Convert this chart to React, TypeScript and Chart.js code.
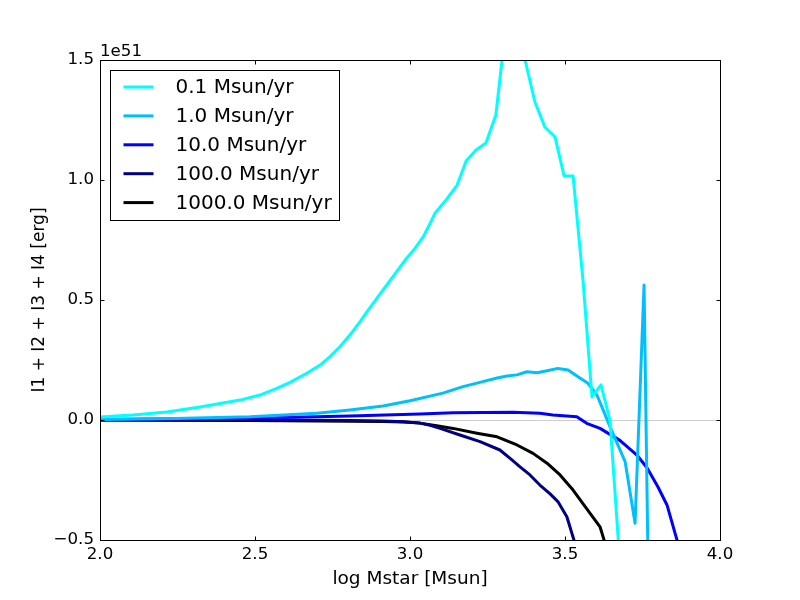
import React, { useEffect, useRef } from "react";
import { Chart, registerables } from "chart.js";

Chart.register(...registerables);

// ---- Data (energy in units of 1e51 erg) ----
const seriesLabels = ["0.1 Msun/yr", "1.0 Msun/yr", "10.0 Msun/yr", "100.0 Msun/yr", "1000.0 Msun/yr"];

const logM_01 = [2.0, 2.106, 2.216, 2.323, 2.452, 2.516, 2.570, 2.613, 2.667, 2.710, 2.742, 2.774, 2.806, 2.839, 2.865, 2.893, 2.925, 2.957, 2.989, 3.016, 3.043, 3.07, 3.081, 3.119, 3.152, 3.181, 3.213, 3.245, 3.277, 3.310, 3.342, 3.403, 3.435, 3.468, 3.497, 3.526, 3.558, 3.587, 3.616, 3.645, 3.68];
const energy_01 = [0.0125, 0.021, 0.033, 0.054, 0.083, 0.104, 0.132, 0.157, 0.195, 0.229, 0.264, 0.305, 0.354, 0.41, 0.458, 0.507, 0.5625, 0.618, 0.674, 0.715, 0.764, 0.833, 0.863, 0.921, 0.979, 1.079, 1.125, 1.154, 1.271, 1.65, 1.66, 1.325, 1.221, 1.179, 1.017, 1.017, 0.583, 0.096, 0.146, 0.0, -0.65];

const logM_1 = [2.0, 2.242, 2.484, 2.7, 2.806, 2.913, 3.0, 3.106, 3.171, 3.235, 3.281, 3.313, 3.345, 3.377, 3.41, 3.442, 3.477, 3.51, 3.542, 3.574, 3.603, 3.623, 3.645, 3.668, 3.694, 3.726, 3.755, 3.787];
const energy_1 = [0.002, 0.006, 0.014, 0.028, 0.042, 0.058, 0.08, 0.112, 0.139, 0.16, 0.175, 0.183, 0.188, 0.201, 0.197, 0.205, 0.215, 0.208, 0.18, 0.153, 0.104, 0.042, -0.028, -0.096, -0.174, -0.43, 0.5625, -2.3];

const logM_10 = [2.0, 2.484, 2.806, 3.032, 3.139, 3.332, 3.419, 3.461, 3.538, 3.570, 3.613, 3.677, 3.732, 3.765, 3.8, 3.829, 3.89];
const energy_10 = [0.002, 0.007, 0.017, 0.025, 0.030, 0.032, 0.028, 0.021, 0.014, -0.014, -0.035, -0.085, -0.146, -0.2, -0.279, -0.354, -0.63];

const logM_100 = [2.0, 2.484, 2.806, 2.913, 2.98, 3.032, 3.065, 3.097, 3.161, 3.226, 3.29, 3.323, 3.355, 3.387, 3.419, 3.452, 3.477, 3.506, 3.55];
const energy_100 = [0.0, 0.0, -0.002, -0.004, -0.007, -0.013, -0.022, -0.035, -0.0625, -0.09, -0.125, -0.16, -0.195, -0.229, -0.271, -0.308, -0.34, -0.403, -0.59];

const logM_1000 = [2.0, 2.484, 2.913, 2.98, 3.032, 3.086, 3.139, 3.216, 3.281, 3.345, 3.397, 3.442, 3.484, 3.526, 3.565, 3.613, 3.645];
const energy_1000 = [0.0, -0.002, -0.006, -0.008, -0.013, -0.024, -0.035, -0.055, -0.07, -0.104, -0.139, -0.18, -0.229, -0.292, -0.361, -0.445, -0.58];

const xTicks = [2.0, 2.5, 3.0, 3.5, 4.0];
const yTicks = [-0.5, 0.0, 0.5, 1.0, 1.5];
const offsetLabel = "1e51";

// ---- Styles ----
const seriesColors = ["#00FFFF", "#00BFFF", "#0000FF", "#000080", "#000000"];
const FONT = "DejaVu Sans";

const toPoints = (xs: number[], ys: number[]) => xs.map((x, i) => ({ x, y: ys[i] }));

const fmtTick = (v: number) => {
  const s = Number(v).toFixed(1);
  return s.startsWith("-") ? "\u2212" + s.slice(1) : s;
};

const framePlugin = {
  id: "mplFrame",
  beforeDatasetsDraw(chart: any) {
    const { ctx, chartArea } = chart;
    const y0 = Math.round(chart.scales.y.getPixelForValue(0)) + 0.5;
    ctx.save();
    ctx.strokeStyle = "#cccccc";
    ctx.lineWidth = 1;
    ctx.beginPath();
    ctx.moveTo(chartArea.left, y0);
    ctx.lineTo(chartArea.right, y0);
    ctx.stroke();
    ctx.restore();
  },
  afterDatasetsDraw(chart: any) {
    const { ctx, chartArea } = chart;
    const { left, right, top, bottom } = chartArea;
    const L = Math.round(left) + 0.5;
    const R = Math.round(right) + 0.5;
    const T = Math.round(top) + 0.5;
    const B = Math.round(bottom) + 0.5;
    ctx.save();
    ctx.strokeStyle = "#000";
    ctx.lineWidth = 1;
    ctx.strokeRect(L, T, R - L, B - T);
    const tl = 4;
    ctx.beginPath();
    chart.scales.x.ticks.forEach((t: any) => {
      const px = Math.round(chart.scales.x.getPixelForValue(t.value)) + 0.5;
      ctx.moveTo(px, B);
      ctx.lineTo(px, B - tl);
      ctx.moveTo(px, T);
      ctx.lineTo(px, T + tl);
    });
    chart.scales.y.ticks.forEach((t: any) => {
      const py = Math.round(chart.scales.y.getPixelForValue(t.value)) + 0.5;
      ctx.moveTo(L, py);
      ctx.lineTo(L + tl, py);
      ctx.moveTo(R, py);
      ctx.lineTo(R - tl, py);
    });
    ctx.stroke();
    // offset text
    ctx.fillStyle = "#000";
    ctx.font = `16.67px "${FONT}"`;
    ctx.textAlign = "left";
    ctx.textBaseline = "alphabetic";
    ctx.fillText(offsetLabel, left, top - 4);
    ctx.restore();
  },
  afterDraw(chart: any) {
    const { ctx, chartArea } = chart;
    const bx = Math.round(chartArea.left) + 10.5;
    const by = Math.round(chartArea.top) + 10.5;
    const bw = 229;
    const bh = 150;
    ctx.save();
    ctx.fillStyle = "#fff";
    ctx.fillRect(bx, by, bw, bh);
    ctx.strokeStyle = "#000";
    ctx.lineWidth = 1;
    ctx.strokeRect(bx, by, bw, bh);
    ctx.font = `20px "${FONT}"`;
    ctx.textBaseline = "middle";
    ctx.textAlign = "left";
    chart.data.datasets.forEach((ds: any, i: number) => {
      const cy = by + 16.5 + i * 28.9;
      ctx.strokeStyle = ds.borderColor;
      ctx.lineWidth = 3;
      ctx.beginPath();
      ctx.moveTo(bx + 13, cy);
      ctx.lineTo(bx + 43, cy);
      ctx.stroke();
      ctx.fillStyle = "#000";
      ctx.fillText(ds.label, bx + 65, cy + 1);
    });
    ctx.restore();
  },
};

export default function App() {
  const canvasRef = useRef<HTMLCanvasElement | null>(null);

  useEffect(() => {
    if (!canvasRef.current) return;
    const xs = [logM_01, logM_1, logM_10, logM_100, logM_1000];
    const ys = [energy_01, energy_1, energy_10, energy_100, energy_1000];
    const chart = new Chart(canvasRef.current, {
      type: "line",
      data: {
        datasets: seriesLabels.map((label, i) => ({
          label,
          data: toPoints(xs[i], ys[i]),
          borderColor: seriesColors[i],
          backgroundColor: seriesColors[i],
          borderWidth: 3,
          pointRadius: 0,
          fill: false,
          tension: 0,
          clip: 0,
          borderJoinStyle: "round" as const,
        })),
      },
      options: {
        responsive: false,
        animation: false,
        events: [],
        layout: { padding: { left: 0, top: 60, right: 80, bottom: 0 } },
        plugins: {
          legend: { display: false },
          tooltip: { enabled: false },
        },
        scales: {
          x: {
            type: "linear",
            min: 2,
            max: 4,
            afterFit: (s: any) => {
              s.height = 60;
            },
            afterBuildTicks: (s: any) => {
              s.ticks = xTicks.map((v) => ({ value: v }));
            },
            grid: { display: false, drawTicks: false },
            border: { display: false },
            ticks: {
              color: "#000",
              padding: 5,
              maxRotation: 0,
              font: { family: FONT, size: 16.67 },
              callback: (v: any) => fmtTick(v),
            },
            title: {
              display: true,
              text: "log Mstar [Msun]",
              color: "#000",
              font: { family: FONT, size: 18.5 },
              padding: { top: 0, bottom: 10 },
            },
          },
          y: {
            type: "linear",
            min: -0.5,
            max: 1.5,
            afterFit: (s: any) => {
              s.width = 100;
            },
            afterBuildTicks: (s: any) => {
              s.ticks = yTicks.map((v) => ({ value: v }));
            },
            grid: { display: false, drawTicks: false },
            border: { display: false },
            ticks: {
              color: "#000",
              padding: 6,
              font: { family: FONT, size: 16.67 },
              callback: (v: any) => fmtTick(v),
            },
            title: {
              display: true,
              text: "I1 + I2 + I3 + I4 [erg]",
              color: "#000",
              font: { family: FONT, size: 17 },
              padding: { top: 29, bottom: 0 },
            },
          },
        },
      },
      plugins: [framePlugin],
    });
    return () => chart.destroy();
  }, []);

  return (
    <div style={{ position: "absolute", left: 0, top: 0, width: 800, height: 600, background: "#fff" }}>
      <canvas ref={canvasRef} width={800} height={600} style={{ width: 800, height: 600 }} />
    </div>
  );
}
